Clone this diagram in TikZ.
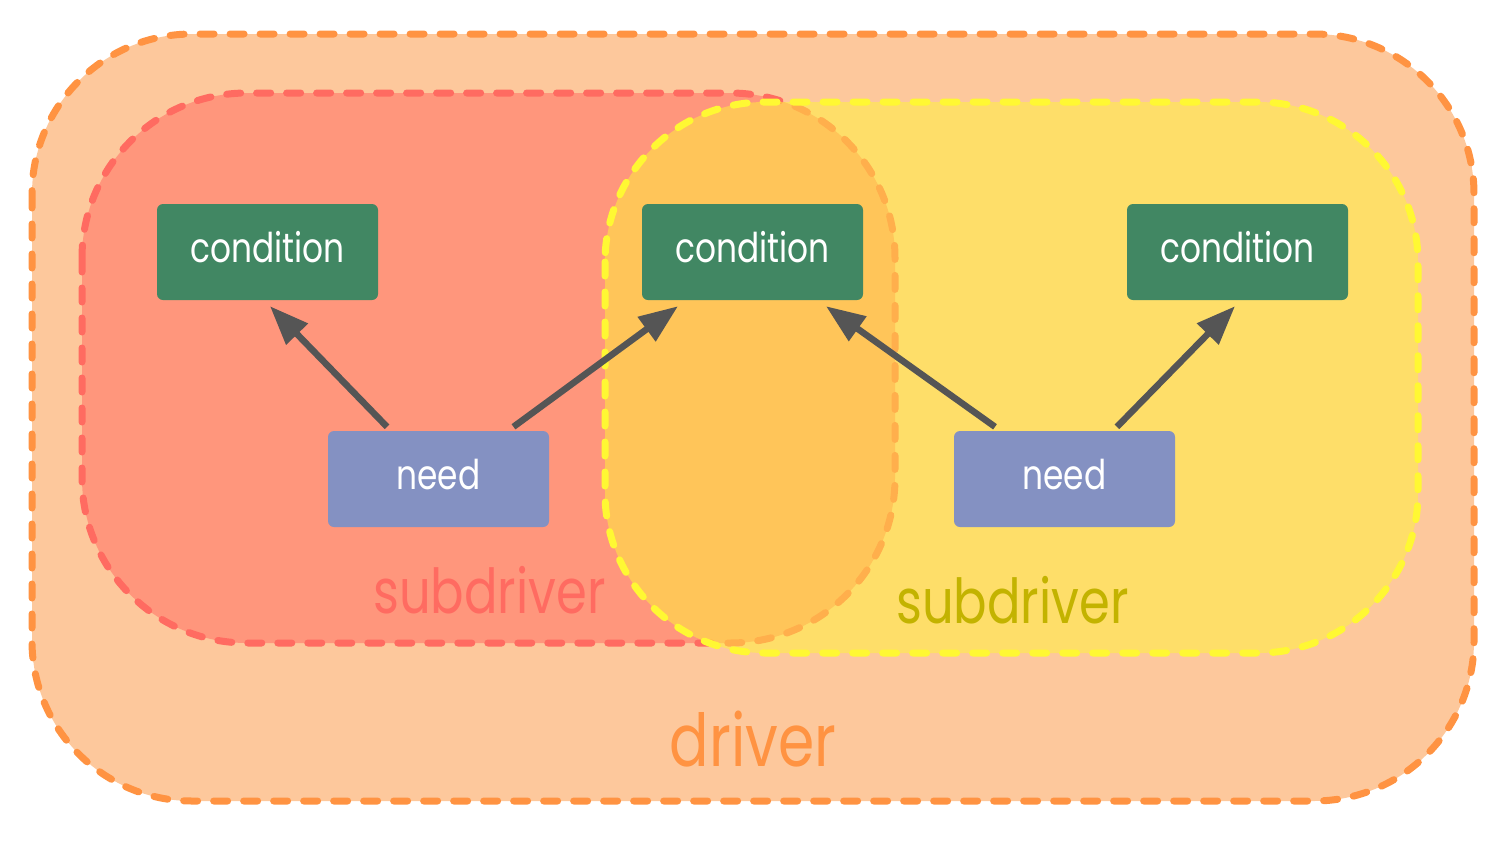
\documentclass[tikz,border=0pt]{standalone}
\usepackage{fontspec}
\usetikzlibrary{arrows.meta}
\newfontfamily\lblfont[FakeStretch=0.8]{Poppins}
\definecolor{drvFill}{HTML}{FDC89C}
\definecolor{drvLine}{HTML}{FF9342}
\definecolor{redFill}{HTML}{FF967C}
\definecolor{redLine}{HTML}{FF6B61}
\definecolor{yelFill}{HTML}{FFF438}
\definecolor{yelLine}{HTML}{FFF833}
\definecolor{yelText}{HTML}{C3B300}
\definecolor{condC}{HTML}{418763}
\definecolor{needC}{HTML}{8491C2}
\definecolor{arrC}{HTML}{555555}
\tikzset{
  region/.style={line width=7pt, line cap=round, dash pattern=on 14pt off 16pt, rounded corners=160pt},
  boxnode/.style={minimum width=221pt, minimum height=96pt, inner sep=0pt, rounded corners=6pt,
    text=white, font=\lblfont\fontsize{41}{41}\selectfont, text height=25pt, text depth=5pt},
  condbox/.style={boxnode, fill=condC},
  needbox/.style={boxnode, fill=needC},
  conn/.style={draw=arrC, line width=6.5pt, -{Triangle[length=39pt,width=29pt]}},
  sublbl/.style={anchor=base, inner sep=0pt, font=\lblfont\fontsize{62}{62}\selectfont},
  drvlbl/.style={anchor=base, inner sep=0pt, font=\lblfont\fontsize{73}{73}\selectfont}
}
\begin{document}
\begin{tikzpicture}[x=1pt,y=-1pt]
\useasboundingbox (0,0) rectangle (1497,855);
% regions
\draw[region, fill=drvFill, draw=drvLine] (32,34) rectangle (1474,801);
\draw[region, rounded corners=165pt, fill=redFill, draw=redLine] (82,93) rectangle (895,643);
\draw[region, fill=yelFill, fill opacity=0.5, draw=yelLine] (605,102) rectangle (1418,653);
% labels
\node[sublbl, text=redLine] (lblred) at (489.5,613) {subdriver};
\node[sublbl, text=yelText] (lblyel) at (1012.5,623) {subdriver};
\node[drvlbl, text=drvLine] (lbldrv) at (753,766) {driver};
% boxes
\node[condbox] (c1) at (267.5,252) {condition};
\node[condbox] (c2) at (752.5,252) {condition};
\node[condbox] (c3) at (1237.5,252) {condition};
\node[needbox] (n1) at (438.5,479) {need};
\node[needbox] (n2) at (1064.5,479) {need};
% arrows
\draw[conn] ([xshift=-51.5pt,yshift=4pt]n1.north) -- ([xshift=2.5pt,yshift=-6pt]c1.south);
\draw[conn] ([xshift=75pt,yshift=4pt]n1.north) -- ([xshift=-74.5pt,yshift=-6pt]c2.south);
\draw[conn] ([xshift=-69.5pt,yshift=4pt]n2.north) -- ([xshift=73.5pt,yshift=-6pt]c2.south);
\draw[conn] ([xshift=52.5pt,yshift=4pt]n2.north) -- ([xshift=-2.5pt,yshift=-6pt]c3.south);
\end{tikzpicture}
\end{document}
